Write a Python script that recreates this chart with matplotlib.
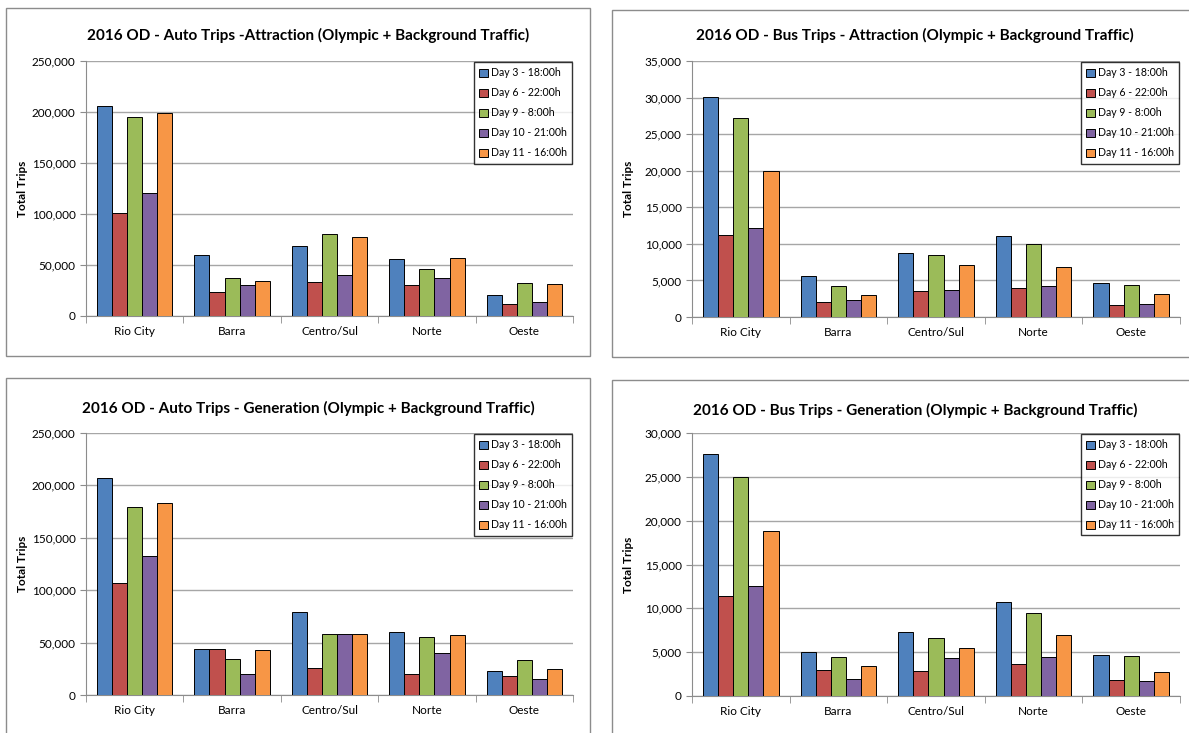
import numpy as np
import matplotlib.pyplot as plt
from matplotlib.patches import Rectangle
from matplotlib.ticker import FuncFormatter

plt.rcParams['font.family'] = ['Lato', 'DejaVu Sans']

regions = ['Rio City', 'Barra', 'Centro/Sul', 'Norte', 'Oeste']
series = ['Day 3 - 18:00h', 'Day 6 - 22:00h', 'Day 9 - 8:00h', 'Day 10 - 21:00h', 'Day 11 - 16:00h']
colors = ['#4F81BD', '#C0504D', '#9BBB59', '#8064A2', '#F79646']

# valori, una riga per serie (Rio City, Barra, Centro/Sul, Norte, Oeste)
auto_attraction = [
    [206000, 60000, 69000, 56000, 21000],
    [101000, 24000, 33000, 30000, 12000],
    [195000, 37000, 80000, 46000, 32000],
    [121000, 30000, 40000, 37000, 14000],
    [199000, 34000, 77000, 57000, 31000],
]
bus_attraction = [
    [30100, 5600, 8800, 11100, 4600],
    [11200, 2100, 3500, 3900, 1600],
    [27200, 4300, 8500, 10000, 4400],
    [12200, 2300, 3700, 4200, 1800],
    [20000, 3000, 7100, 6800, 3100],
]
auto_generation = [
    [207000, 44000, 79000, 60000, 23000],
    [107000, 44000, 26000, 20000, 18000],
    [179000, 34000, 58000, 55000, 33000],
    [133000, 20000, 58000, 40000, 15000],
    [183000, 43000, 58000, 57000, 25000],
]
bus_generation = [
    [27600, 5000, 7300, 10700, 4700],
    [11400, 3000, 2900, 3600, 1800],
    [25000, 4400, 6600, 9500, 4600],
    [12500, 1900, 4300, 4500, 1700],
    [18800, 3400, 5500, 7000, 2700],
]

W, H = 1189, 733


def frame(fig, x0, y0, x1, y1):
    # riquadro grigio attorno al grafico (coordinate in pixel, origine in alto)
    r = Rectangle((x0 / W, 1 - y1 / H), (x1 - x0) / W, (y1 - y0) / H,
                  transform=fig.transFigure, fill=False, edgecolor='#8c8c8c', lw=1.0)
    fig.patches.append(r)


def panel(fig, box, title, data, ymax, ystep, title_y):
    x0, y0, x1, y1 = box
    ax = fig.add_axes([x0 / W, 1 - y1 / H, (x1 - x0) / W, (y1 - y0) / H])
    x = np.arange(len(regions))
    bw = 0.155
    for i, vals in enumerate(data):
        ax.bar(x + (i - 2) * bw, vals, bw, color=colors[i], edgecolor='black',
               linewidth=0.7, label=series[i], zorder=3)
    ax.set_xlim(-0.5, len(regions) - 0.5)
    ax.set_ylim(0, ymax)
    ax.set_yticks(np.arange(0, ymax + 1, ystep))
    ax.yaxis.set_major_formatter(FuncFormatter(lambda v, p: f'{int(v):,}'))
    ax.set_xticks(x)
    ax.set_xticklabels(regions, fontsize=8.5)
    ax.set_xticks(np.arange(-0.5, len(regions)), minor=True)
    ax.tick_params(axis='x', which='major', length=0, pad=7)
    ax.tick_params(axis='x', which='minor', length=5, color='#8c8c8c')
    ax.tick_params(axis='y', labelsize=8.5, length=4, color='#8c8c8c')
    ax.grid(axis='y', color='#a6a6a6', linewidth=1.0, zorder=0)
    for s in ['top', 'right']:
        ax.spines[s].set_visible(False)
    ax.spines['left'].set_color('#8c8c8c')
    ax.spines['bottom'].set_color('#8c8c8c')
    ax.set_ylabel('Total Trips', fontsize=8.5, fontweight='bold')
    ax.yaxis.set_label_coords(-58 / (x1 - x0), 0.5)
    fig.text(((x0 + x1) / 2 - 21) / W, 1 - title_y / H, title, fontsize=11,
             fontweight='bold', ha='center', va='center')
    leg = ax.legend(loc='upper right', fontsize=7.6, frameon=True, fancybox=False,
                    borderpad=0.5, labelspacing=0.85, handlelength=0.8,
                    handleheight=0.8, handletextpad=0.3, borderaxespad=0.1)
    leg.get_frame().set_edgecolor('black')
    leg.get_frame().set_linewidth(1.0)
    return ax


def main():
    fig = plt.figure(figsize=(W / 100, H / 100), dpi=100)

    frame(fig, 6, 8, 590, 356)
    frame(fig, 612, 10, 1200, 357)
    frame(fig, 6, 378, 590, 745)
    frame(fig, 612, 380, 1200, 745)

    panel(fig, (86, 61, 573, 316),
          '2016 OD - Auto Trips -Attraction (Olympic + Background Traffic)',
          auto_attraction, 250000, 50000, 35)
    panel(fig, (692, 61, 1180, 317),
          '2016 OD - Bus Trips - Attraction (Olympic + Background Traffic)',
          bus_attraction, 35000, 5000, 35)
    panel(fig, (86, 433, 573, 695),
          '2016 OD - Auto Trips - Generation (Olympic + Background Traffic)',
          auto_generation, 250000, 50000, 408)
    panel(fig, (692, 433, 1180, 696),
          '2016 OD - Bus Trips - Generation (Olympic + Background Traffic)',
          bus_generation, 30000, 5000, 410)

    plt.savefig('out.png', dpi=100)


if __name__ == '__main__':
    main()
